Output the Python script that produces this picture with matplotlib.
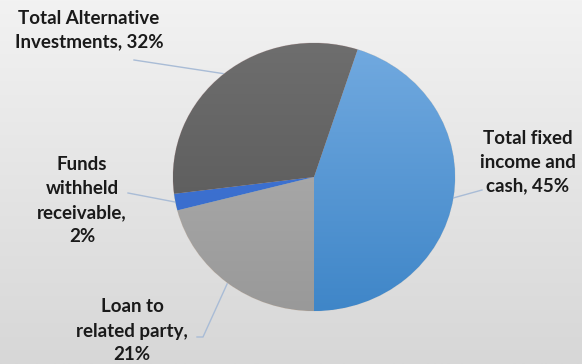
import matplotlib
matplotlib.use("Agg")
import matplotlib.pyplot as plt
import numpy as np
from matplotlib.colors import LinearSegmentedColormap

# Data
labels = ["Total fixed\nincome and\ncash, 45%", "Loan to\nrelated party,\n21%",
          "Funds\nwithheld\nreceivable,\n2%", "Total Alternative\nInvestments, 32%"]
shares = [45, 21, 2, 32]
top_colors = ["#72aae0", "#b4b4b4", "#4579d8", "#6e6e6e"]
bottom_colors = ["#3f86c8", "#999999", "#3468c8", "#545454"]

# label centre (px, from top-left) and leader line end (px)
label_pos = [(528, 162), (132, 331), (82, 201), (89, 30)]
line_end = [[(482, 190)], [(203, 337), (197, 337)], [(128, 193)], [(134, 60)]]

W, H = 582, 364
fig = plt.figure(figsize=(W / 100, H / 100), dpi=100)

# background
bg = fig.add_axes([0, 0, 1, 1])
grad = np.linspace(0, 1, 256).reshape(-1, 1)
bg_cmap = LinearSegmentedColormap.from_list("bg", ["#f2f2f2", "#d7d7d7"])
bg.imshow(grad, cmap=bg_cmap, aspect="auto", extent=[0, W, H, 0])
bg.set_xlim(0, W)
bg.set_ylim(H, 0)
bg.axis("off")

# pie (slightly stretched like the original)
cx, cy, rx, ry = 314, 177, 141, 134
ax = fig.add_axes([(cx - rx) / W, (H - cy - ry) / H, 2 * rx / W, 2 * ry / H])
wedges, _ = ax.pie(shares, startangle=72, counterclock=False, radius=1,
                   wedgeprops=dict(linewidth=0.6, edgecolor="#d0d0d0"))
ax.set_aspect("auto")
ax.axis("off")

for w, c1, c2 in zip(wedges, top_colors, bottom_colors):
    cm = LinearSegmentedColormap.from_list("g", [c1, c2])
    im = ax.imshow(grad, cmap=cm, aspect="auto", extent=[-1, 1, -1, 1],
                   zorder=w.get_zorder() + 0.1)
    im.set_clip_path(w)
ax.set_xlim(-1, 1)
ax.set_ylim(-1, 1)

# labels and leader lines
inv = bg.transData.inverted()
for w, lab, pos, ends in zip(wedges, labels, label_pos, line_end):
    mid = np.deg2rad((w.theta1 + w.theta2) / 2)
    anchor = inv.transform(ax.transData.transform((np.cos(mid), np.sin(mid))))
    pts = [tuple(anchor)] + ends
    xs, ys = zip(*pts)
    bg.plot(xs, ys, color="#a9bcd6", lw=1, zorder=1)
    bg.text(pos[0], pos[1], lab, ha="center", va="center", fontsize=13.5,
            fontweight="bold", family="Lato", color="#1a1a1a", linespacing=1.5)

fig.savefig("out.png", dpi=100)
